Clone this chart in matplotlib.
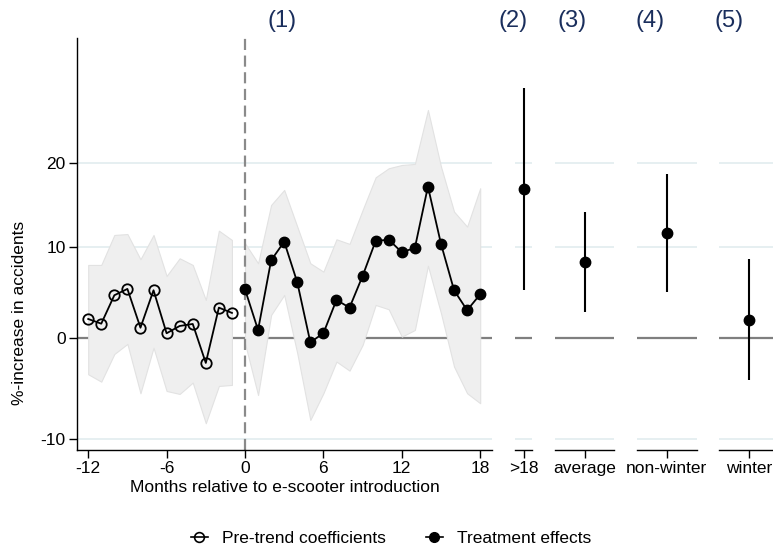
import numpy as np
import matplotlib
matplotlib.use("Agg")
import matplotlib.pyplot as plt
from matplotlib.lines import Line2D

plt.rcParams['font.family'] = ['Liberation Sans', 'DejaVu Sans']

# ---- data (coefficients in log points; labels shown as % increase) ----
pre_months = [-12, -11, -10, -9, -8, -7, -6, -5, -4, -3, -2, -1]
pre_coef = [0.0201, 0.0152, 0.0448, 0.0514, 0.0110, 0.0500, 0.0052, 0.0128, 0.0149, -0.0257, 0.0319, 0.0264]
pre_hi = [0.0764, 0.0764, 0.1076, 0.1086, 0.0823, 0.1076, 0.0649, 0.0833, 0.0764, 0.0399, 0.1121, 0.1024]
pre_lo = [-0.0375, -0.0452, -0.0164, -0.0059, -0.0573, -0.0098, -0.0549, -0.0580, -0.0462, -0.0885, -0.0497, -0.0486]

post_months = list(range(0, 19))
post_coef = [0.0510, 0.0086, 0.0812, 0.1006, 0.0583, -0.0042, 0.0052, 0.0399, 0.0319, 0.0649,
             0.1014, 0.1027, 0.0896, 0.0941, 0.1580, 0.0983, 0.0500, 0.0292, 0.0458]
post_hi = [0.0990, 0.0781, 0.1389, 0.1545, 0.1163, 0.0781, 0.0694, 0.1031, 0.0983, 0.1336,
           0.1677, 0.1771, 0.1805, 0.1816, 0.2378, 0.1788, 0.1319, 0.1163, 0.1563]
post_lo = [-0.0052, -0.0591, 0.0243, 0.0451, -0.0156, -0.0851, -0.0573, -0.0243, -0.0337, -0.0070,
           0.0347, 0.0302, 0.0017, 0.0086, 0.0756, 0.0260, -0.0296, -0.0573, -0.0677]

panel_labels = [">18", "average", "non-winter", "winter"]
panel_coef = [0.1558, 0.0798, 0.1097, 0.0194]
panel_hi = [0.2604, 0.1319, 0.1708, 0.0823]
panel_lo = [0.0503, 0.0277, 0.0485, -0.0434]

panel_titles = ["(1)", "(2)", "(3)", "(4)", "(5)"]
ytick_pct = [-10, 0, 10, 20]
xticks_main = [-12, -6, 0, 6, 12, 18]

# ---- layout ----
W, H = 773, 551
fig = plt.figure(figsize=(W / 100, H / 100), dpi=100)

def px_axes(x0, x1, y_top, y_bot):
    return fig.add_axes([x0 / W, (H - y_bot) / H, (x1 - x0) / W, (y_bot - y_top) / H])

YMIN, YMAX = -0.1164, 0.3128
yticks = np.log1p(np.array(ytick_pct) / 100.0)
grid_c = '#E6EFF1'
zero_c = '#7F7F7F'
title_c = '#1A2E5C'
FS = 12.5

def style_common(ax):
    ax.set_ylim(YMIN, YMAX)
    for yv, p in zip(yticks, ytick_pct):
        if p == 0:
            ax.axhline(yv, color=zero_c, lw=1.6, zorder=1)
        else:
            ax.axhline(yv, color=grid_c, lw=1.4, zorder=0)
    for s in ['top', 'right']:
        ax.spines[s].set_visible(False)
    ax.spines['bottom'].set_linewidth(1.0)
    ax.tick_params(axis='x', length=6, width=1.0, labelsize=FS, pad=2)

# main panel
ax = px_axes(76.7, 491.7, 38, 450)
style_common(ax)
ax.set_xlim(-12.88, 18.88)
ax.spines['left'].set_linewidth(1.0)
ax.set_yticks(yticks)
ax.set_yticklabels([str(p) for p in ytick_pct])
ax.tick_params(axis='y', length=6, width=1.0, labelsize=FS, pad=2)
ax.set_xticks(xticks_main)
ax.set_xticklabels([str(t) for t in xticks_main])

ax.fill_between(pre_months, pre_lo, pre_hi, facecolor='#EFEFEF', edgecolor='#E2E2E2', lw=0.8, zorder=1)
ax.fill_between(post_months, post_lo, post_hi, facecolor='#EFEFEF', edgecolor='#E2E2E2', lw=0.8, zorder=1)
ax.axvline(0, color='#8A8A8A', lw=1.6, ls=(0, (5, 2.5)), zorder=2)
ax.plot(pre_months, pre_coef, color='black', lw=1.3, marker='o', ms=7.5,
        mfc='none', mec='black', mew=1.3, zorder=3)
ax.plot(post_months, post_coef, color='black', lw=1.3, marker='o', ms=7.5,
        mfc='black', mec='black', zorder=3)

# right panels
panel_x = [(515.0, 532.3), (555.0, 614.3), (637.0, 696.7), (719.0, 778.4)]
for (x0, x1), lab, c, lo, hi in zip(panel_x, panel_labels, panel_coef, panel_lo, panel_hi):
    a = px_axes(x0, x1, 38, 450)
    style_common(a)
    a.spines['left'].set_visible(False)
    a.set_yticks([])
    a.set_xlim(-1, 1)
    a.set_xticks([0])
    a.set_xticklabels([lab])
    a.vlines(0, lo, hi, color='black', lw=1.5, zorder=3)
    a.plot([0], [c], marker='o', ms=7.5, color='black', zorder=4)

# panel titles
title_x = [281.7, 512.7, 571.7, 650.0, 729.0]
for tx, t in zip(title_x, panel_titles):
    fig.text(tx / W, 1 - 21 / H, t, ha='center', va='center', fontsize=17, color=title_c)

# axis labels
fig.text(20 / W, 1 - 313 / H, "%-increase in accidents", rotation=90,
         ha='center', va='center', fontsize=FS)
fig.text(285 / W, 1 - 488 / H, "Months relative to e-scooter introduction",
         ha='center', va='center', fontsize=FS)

# legend
h1 = Line2D([], [], color='black', lw=1.2, marker='o', ms=7, mfc='none', mec='black', mew=1.2)
h2 = Line2D([], [], color='black', lw=1.2, marker='o', ms=7, mfc='black', mec='black')
fig.legend([h1, h2], ["Pre-trend coefficients", "Treatment effects"],
           loc='center', bbox_to_anchor=(391 / W, 1 - 538 / H), ncol=2, frameon=False,
           fontsize=FS, handlelength=1.0, columnspacing=2.3, handletextpad=0.8)

fig.savefig("out.png", dpi=100)
